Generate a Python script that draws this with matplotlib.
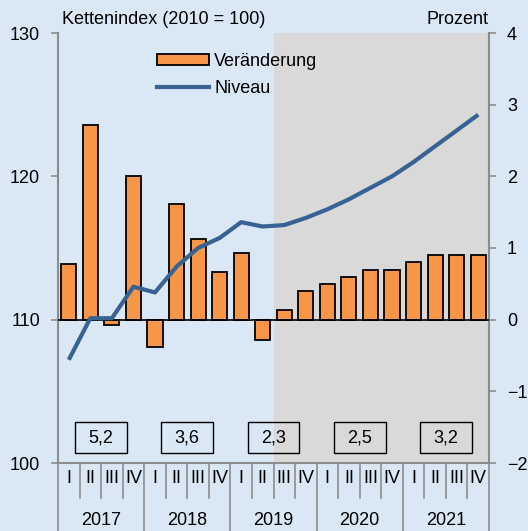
import matplotlib.pyplot as plt
import matplotlib.transforms as mtransforms
from matplotlib.patches import Rectangle, Patch
from matplotlib.lines import Line2D

plt.rcParams['font.family'] = ['Liberation Sans', 'DejaVu Sans']

# Daten
jahre = ['2017', '2018', '2019', '2020', '2021']
quartale = ['I', 'II', 'III', 'IV']
veraenderung = [0.77, 2.71, -0.08, 2.01, -0.38, 1.62, 1.12, 0.66, 0.93, -0.28,
                0.13, 0.40, 0.50, 0.60, 0.70, 0.70, 0.80, 0.90, 0.90, 0.90]
niveau = [107.2, 110.1, 110.1, 112.3, 111.9, 113.7, 115.0, 115.7, 116.8, 116.5,
          116.6, 117.1, 117.7, 118.4, 119.2, 120.0, 121.0, 122.1, 123.2, 124.3]
jahresrate = ['5,2', '3,6', '2,3', '2,5', '3,2']
prognose_ab = 10

bg = '#dae8f5'
orange = '#f79646'
blau = '#386293'
grau = '#8c8c8c'
fs = 13

fig = plt.figure(figsize=(5.28, 5.31), dpi=100, facecolor=bg)
ax = fig.add_axes([58/528, 1-463/531, 431/528, 430/531])
ax2 = ax.twinx()
ax.set_zorder(ax2.get_zorder() + 1)
ax.patch.set_visible(False)
ax2.patch.set_visible(False)

x = list(range(len(veraenderung)))
ax2.axvspan(prognose_ab - 0.5, len(x) - 0.5, color='#d9d9d9', lw=0, zorder=0)
ax2.bar(x, veraenderung, width=0.7, color=orange, edgecolor='black', lw=1.3, zorder=2)
ax2.axhline(0, color='black', lw=1.2, zorder=3)
ax.plot(x, niveau, color=blau, lw=3, solid_capstyle='butt', zorder=4)

ax.set_xlim(-0.5, len(x) - 0.5)
ax.set_ylim(100, 130)
ax2.set_ylim(-2, 4)
ax.set_yticks([100, 110, 120, 130])
ax2.set_yticks(range(-2, 5))

for a in (ax, ax2):
    for s in a.spines.values():
        s.set_visible(False)
    a.tick_params(axis='y', length=5, width=1.2, color=grau, labelsize=fs, pad=8)
    a.set_xticks([])
for k in ('left', 'right', 'bottom'):
    ax2.spines[k].set_visible(True)
    ax2.spines[k].set_color(grau)
    ax2.spines[k].set_linewidth(1.5)

# x-Achsenbeschriftung
tr = mtransforms.blended_transform_factory(ax.transData, ax.transAxes)
for i in x:
    ax.text(i, -0.035, quartale[i % 4], transform=tr, ha='center', va='center', fontsize=fs)
for i in range(len(x) + 1):
    xb = i - 0.5
    y0 = -0.158 if i % 4 == 0 else -0.081
    ax.plot([xb, xb], [0, y0], transform=tr, color=grau, lw=1.2, clip_on=False)
for j, jahr in enumerate(jahre):
    xm = 4 * j + 1.5
    ax.text(xm, -0.134, jahr, transform=tr, ha='center', va='center', fontsize=fs)
    ax.add_patch(Rectangle((xm - 1.2, 0.023), 2.4, 0.072, transform=tr,
                           facecolor='none', edgecolor='black', lw=1.0, zorder=5))
    ax.text(xm, 0.059, jahresrate[j], transform=tr, ha='center', va='center',
            fontsize=fs, zorder=6)

fig.text(62/528, 1-20/531, 'Kettenindex (2010 = 100)', ha='left', va='center', fontsize=fs)
fig.text(489/528, 1-20/531, 'Prozent', ha='right', va='center', fontsize=fs)

handles = [Patch(facecolor=orange, edgecolor='black', lw=1.3),
           Line2D([], [], color=blau, lw=3)]
ax.legend(handles, ['Veränderung', 'Niveau'], loc='upper left',
          bbox_to_anchor=(144/528, 1-40/531), bbox_transform=fig.transFigure,
          frameon=False, fontsize=fs, handlelength=2.9, handleheight=0.55,
          handletextpad=0.3, labelspacing=0.55, borderpad=0.2)

fig.savefig('out.png', dpi=100, facecolor=bg)
